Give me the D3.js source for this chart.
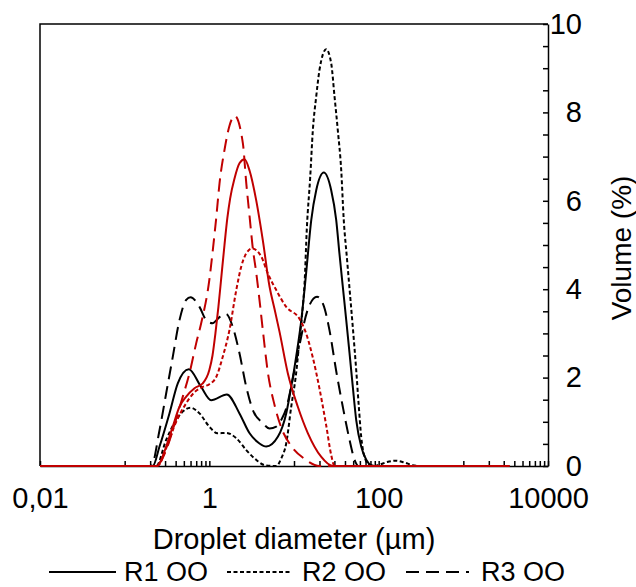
<!DOCTYPE html>
<html>
<head>
<meta charset="utf-8">
<script src="https://cdn.jsdelivr.net/npm/d3@7"></script>
<style>
  body { margin: 0; background: #fff; }
  svg { display: block; font-family: "Liberation Sans", Arial, sans-serif; }
</style>
</head>
<body>
<div id="chart"></div>
<script>
// droplet size distributions: [diameter (µm), volume (%)]
const r1OO = [[0.01,0],[0.215,0],[0.258,0.44],[0.338,1.19],[0.424,1.87],[0.572,2.19],[0.80,1.79],[1.05,1.49],
  [1.61,1.62],[2.27,1.19],[2.99,0.74],[3.91,0.51],[4.7,0.44],[6.44,0.66],[8.09,1.19],[9.27,1.79],[10.6,2.47],
  [12.2,3.30],[13.9,4.36],[16.0,5.57],[18.3,6.24],[22.5,6.64],[27.5,6.24],[31.5,5.57],[34.4,4.81],[37.7,4.06],
  [41.4,3.30],[45.3,2.55],[49.5,1.79],[54.3,1.04],[62.2,0.44],[71.3,0.14],[81.7,0.02],[97,0],[3500,0]];

const r2OO = [[0.01,0],[0.236,0],[0.309,0.59],[0.406,1.04],[0.486,1.23],[0.60,1.32],[0.765,1.19],[1.0,0.89],
  [1.25,0.74],[1.58,0.75],[2.08,0.63],[2.73,0.36],[3.57,0.14],[4.69,0.01],[6.17,0],[7.1,0.18],[8.09,0.51],
  [9.27,1.34],[10.6,2.10],[11.6,2.85],[12.7,3.60],[13.3,4.1],[14.2,5.4],[15.5,6.5],[16.7,7.6],[18.3,8.36],
  [20.0,8.96],[24.0,9.43],[27.5,9.11],[30.1,8.36],[32.9,7.6],[36.1,6.7],[38.6,5.6],[42.2,4.7],[45.8,3.9],
  [49.7,3.1],[54.3,2.17],[58.3,1.34],[62.2,0.66],[68.1,0.21],[78.0,0.02],[89,0],[102,0.03],[126,0.09],
  [158,0.12],[200,0.08],[251,0.02],[316,0],[3500,0]];

const r3OO = [[0.01,0],[0.206,0],[0.258,0.81],[0.309,1.64],[0.370,2.47],[0.444,3.30],[0.533,3.76],[0.60,3.82],
  [0.765,3.6],[0.918,3.30],[1.09,3.23],[1.32,3.37],[1.58,3.44],[1.89,3.15],[2.27,2.55],[2.73,1.79],[3.26,1.27],
  [4.28,0.97],[5.14,0.85],[6.17,0.89],[7.06,1.04],[8.09,1.3],[9.27,1.8],[11.1,2.55],[14.6,3.55],[18.7,3.83],
  [22.3,3.64],[26.2,3.08],[31.5,2.15],[37.7,1.34],[45.3,0.59],[51.9,0.14],[57.5,0],[3500,0]];

// red series (not in the visible legend)
const red1 = [[0.01,0],[0.24,0],[0.258,0.06],[0.309,0.44],[0.370,0.89],[0.444,1.34],[0.533,1.57],[0.668,1.76],
  [0.837,1.87],[1.0,2.17],[1.09,2.5],[1.18,3.0],[1.28,3.6],[1.39,4.3],[1.51,5.0],[1.63,5.6],[1.76,6.05],
  [1.98,6.5],[2.27,6.85],[2.61,6.94],[2.99,6.68],[3.57,6.02],[4.28,5.11],[5.14,4.06],[5.89,3.55],[6.74,3.04],
  [8.45,2.10],[11.1,1.34],[14.6,0.74],[20.9,0.21],[28.7,0],[3500,0]];

const red2 = [[0.01,0],[0.245,0],[0.309,0.40],[0.40,0.97],[0.533,1.42],[0.668,1.67],[0.837,1.79],[1.0,1.85],
  [1.21,2.02],[1.44,2.47],[1.73,3.08],[2.08,3.98],[2.38,4.51],[2.73,4.81],[3.2,4.92],[4.10,4.74],[4.90,4.36],
  [6.17,3.98],[8.09,3.6],[11.6,3.33],[13.6,3.05],[16.7,2.45],[20.0,1.75],[24.0,0.92],[27.5,0.25],[30.1,0],[3500,0]];

const red3 = [[0.01,0],[0.236,0],[0.258,0.06],[0.309,0.36],[0.370,0.81],[0.424,1.19],[0.486,1.57],[0.583,2.10],
  [0.700,2.78],[0.801,3.23],[1.0,4.21],[1.10,4.89],[1.21,5.64],[1.32,6.40],[1.51,7.15],[1.73,7.7],[2.0,7.92],
  [2.49,7.3],[2.73,6.40],[2.99,5.64],[3.26,4.93],[3.57,4.39],[3.91,3.76],[4.28,3.08],[4.90,2.13],[5.89,1.38],
  [7.1,0.86],[9.3,0.45],[13.3,0.16],[20.0,0],[3500,0]];

const xLabelValues = [0.01, 1, 100, 10000];
const xTickLabels = ["0,01", "1", "100", "10000"];
const decades = [0.01, 0.1, 1, 10, 100, 1000, 10000];
const minorDecades = [0.1, 10, 1000];
const legendNames = ["R1 OO", "R2 OO", "R3 OO"];

const width = 636, height = 587;
const margin = {top: 24, right: 88, bottom: 121, left: 40};
const W = width - margin.left - margin.right;
const H = height - margin.top - margin.bottom;

const RED = "#c00000";
const DOTS = "4,2.5";
const DASH = "13,7";
const FONT = 29;

const svg = d3.select("#chart").append("svg")
  .attr("width", width)
  .attr("height", height);

const g = svg.append("g")
  .attr("transform", "translate(" + margin.left + "," + margin.top + ")");

const x = d3.scaleLog().domain([0.01, 10000]).range([0, W]);
const y = d3.scaleLinear().domain([0, 10]).range([H, 0]);

// frame top + left
g.append("path")
  .attr("d", `M0,${H}V0H${W}`)
  .attr("fill", "none")
  .attr("stroke", "#000")
  .attr("stroke-width", 1.5);

const xMinor = minorDecades.flatMap(dec => d3.range(2, 10).map(k => k * dec));

const xAxis = g.append("g")
  .attr("transform", "translate(0," + H + ")")
  .call(d3.axisBottom(x)
    .tickValues(decades.concat(xMinor))
    .tickSize(-5)
    .tickSizeOuter(0)
    .tickPadding(21)
    .tickFormat(d => {
      const i = xLabelValues.indexOf(d);
      return i >= 0 ? xTickLabels[i] : "";
    }));

const yAxis = g.append("g")
  .attr("transform", "translate(" + W + ",0)")
  .call(d3.axisRight(y)
    .tickValues(d3.range(0, 10.001, 0.5))
    .tickSize(-5)
    .tickSizeOuter(0)
    .tickFormat(d => d % 2 === 0 ? d : ""));

yAxis.selectAll("text")
  .attr("text-anchor", "end")
  .attr("x", 34);

[xAxis, yAxis].forEach(a => {
  a.attr("font-family", null).attr("font-size", FONT);
  a.selectAll("text").attr("fill", "#000");
  a.selectAll("line").attr("stroke", "#000").attr("stroke-width", 1.5);
  a.select(".domain").attr("stroke", "#000").attr("stroke-width", 1.5);
});

const line = d3.line()
  .x(d => x(d[0]))
  .y(d => y(d[1]))
  .curve(d3.curveMonotoneX);

const series = [
  {data: r1OO, color: "#000", dash: null},
  {data: r2OO, color: "#000", dash: DOTS},
  {data: r3OO, color: "#000", dash: DASH},
  {data: red1, color: RED, dash: null},
  {data: red2, color: RED, dash: DOTS},
  {data: red3, color: RED, dash: DASH}
];

g.selectAll(".series")
  .data(series)
  .join("path")
  .attr("class", "series")
  .attr("d", s => line(s.data))
  .attr("fill", "none")
  .attr("stroke", s => s.color)
  .attr("stroke-width", 2)
  .attr("stroke-dasharray", s => s.dash);

// axis titles
svg.append("text")
  .attr("x", margin.left + W / 2)
  .attr("y", 549)
  .attr("text-anchor", "middle")
  .attr("font-size", FONT)
  .text("Droplet diameter (µm)");

svg.append("text")
  .attr("transform", "translate(621,248) rotate(-90)")
  .attr("text-anchor", "middle")
  .attr("dominant-baseline", "central")
  .attr("font-size", 28)
  .text("Volume (%)");

// legend (black series only, as in the figure)
const legendItems = [
  {name: legendNames[0], dash: null, x0: 49, x1: 116, tx: 124},
  {name: legendNames[1], dash: DOTS, x0: 227, x1: 292, tx: 302},
  {name: legendNames[2], dash: DASH, x0: 406, x1: 469, tx: 481}
];

const legend = svg.append("g");
legendItems.forEach(it => {
  legend.append("line")
    .attr("x1", it.x0).attr("x2", it.x1)
    .attr("y1", 572).attr("y2", 572)
    .attr("stroke", "#000")
    .attr("stroke-width", 2)
    .attr("stroke-dasharray", it.dash);
  legend.append("text")
    .attr("x", it.tx)
    .attr("y", 581)
    .attr("font-size", 27)
    .text(it.name);
});
</script>
</body>
</html>
